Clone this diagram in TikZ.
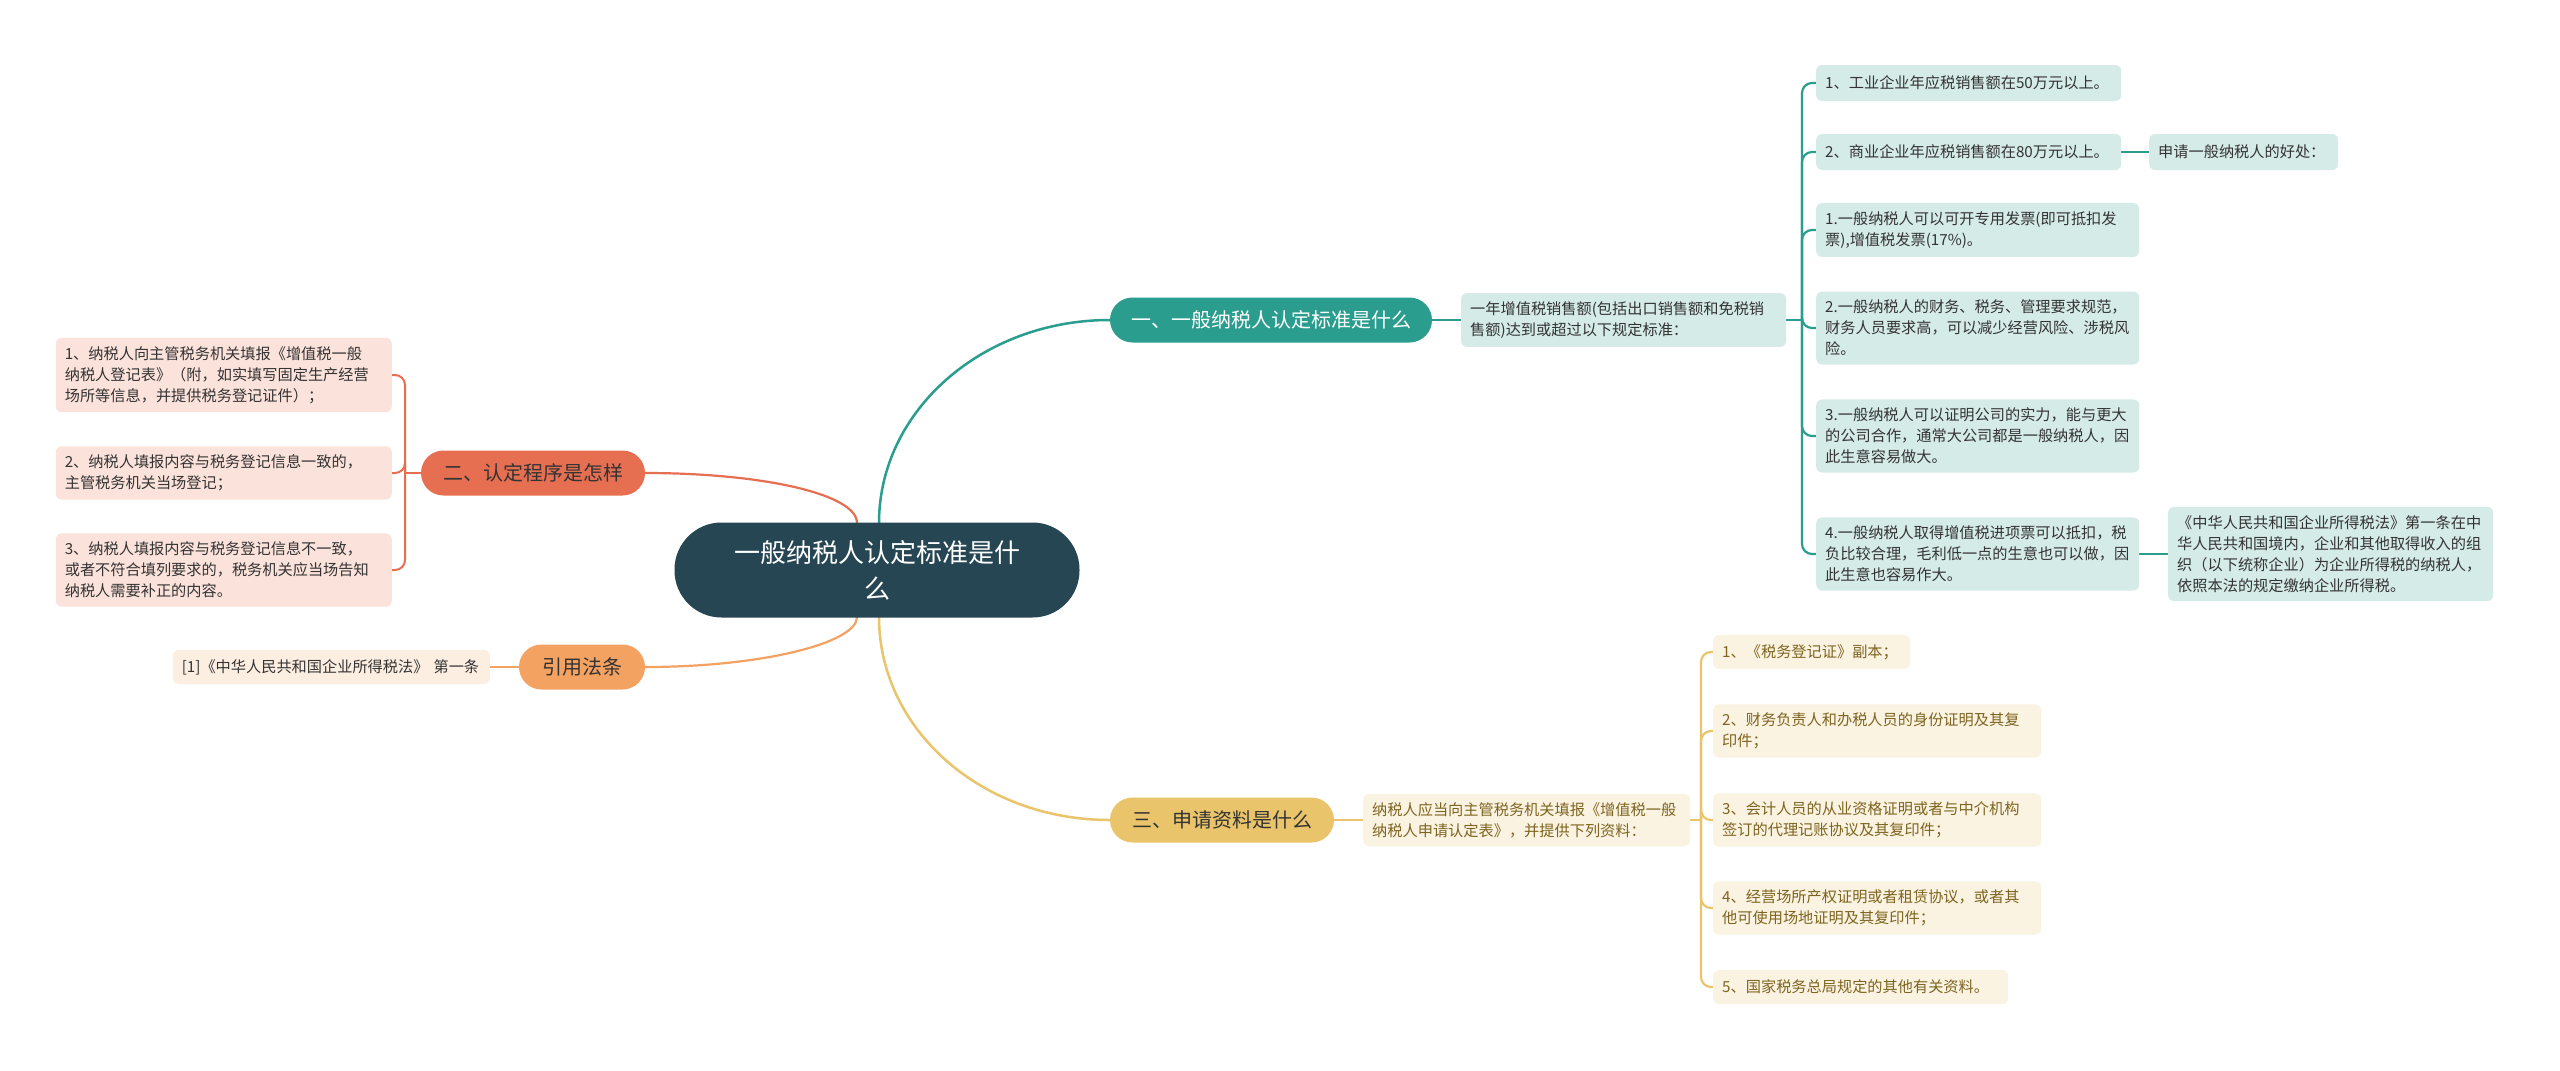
\documentclass[tikz,border=0pt]{standalone}
\usepackage{fontspec}
\setmainfont{Noto Sans CJK SC}
\usetikzlibrary{backgrounds}
\definecolor{cRoot}{HTML}{264653}
\definecolor{cTeal}{HTML}{2A9D8F}
\definecolor{cTealL}{HTML}{D5EBE8}
\definecolor{cRed}{HTML}{E76F51}
\definecolor{cRedL}{HTML}{FBE2DB}
\definecolor{cOra}{HTML}{F4A261}
\definecolor{cOraL}{HTML}{FDEEE2}
\definecolor{cGold}{HTML}{E9C46A}
\definecolor{cGoldL}{HTML}{FBF3E1}
\definecolor{cGoldT}{HTML}{7D6420}
\definecolor{cDark}{HTML}{333333}
\begin{document}
\begin{tikzpicture}[x=1pt,y=-1pt,
  rootbox/.style={fill=cRoot,text=white,rounded corners=47pt,minimum width=405pt,minimum height=95pt,align=center,inner sep=0pt,font=\fontsize{26}{36}\selectfont},
  pill/.style={rounded corners=22.5pt,minimum height=45pt,inner sep=0pt,font=\fontsize{20}{24}\selectfont},
  leaf/.style={rounded corners=6pt,inner xsep=9pt,inner ysep=8.5pt,minimum height=36pt,align=left,anchor=west,font=\fontsize{15.2}{21}\selectfont},
  tleaf/.style={leaf,fill=cTealL,text=cDark},
  rleaf/.style={leaf,fill=cRedL,text=cDark},
  oleaf/.style={leaf,fill=cOraL,text=cDark},
  gleaf/.style={leaf,fill=cGoldL,text=cGoldT},
  tline/.style={draw=cTeal,line width=2.5pt},
  rline/.style={draw=cRed,line width=2.2pt},
  oline/.style={draw=cOra,line width=2.2pt},
  gline/.style={draw=cGold,line width=2.5pt}
]
\useasboundingbox (0,0) rectangle (2560,1071);

% root
\node[rootbox] (root) at (877,570) {一般纳税人认定标准是什\\么};

% branches
\node[pill,fill=cTeal,text=white,minimum width=322pt] (b1) at (1271,320) {一、一般纳税人认定标准是什么};
\node[pill,fill=cRed,text=cDark,minimum width=224pt] (b2) at (533,473) {二、认定程序是怎样};
\node[pill,fill=cOra,text=cDark,minimum width=126pt] (b3) at (582,667) {引用法条};
\node[pill,fill=cGold,text=cDark,minimum width=224pt] (b4) at (1222,820) {三、申请资料是什么};

% branch 1 content
\node[tleaf,text width=307pt] (d1) at (1461,320) {一年增值税销售额(包括出口销售额和免税销\\售额)达到或超过以下规定标准：};
\node[tleaf,text width=287pt] (t1) at (1816,83) {1、工业企业年应税销售额在50万元以上。};
\node[tleaf,text width=287pt] (t2) at (1816,152) {2、商业企业年应税销售额在80万元以上。};
\node[tleaf,text width=171pt] (t2b) at (2149,152) {申请一般纳税人的好处：};
\node[tleaf,text width=305pt] (t3) at (1816,230) {1.一般纳税人可以可开专用发票(即可抵扣发\\票),增值税发票(17\%)。};
\node[tleaf,text width=305pt] (t4) at (1816,328) {2.一般纳税人的财务、税务、管理要求规范，\\财务人员要求高，可以减少经营风险、涉税风\\险。};
\node[tleaf,text width=305pt] (t5) at (1816,436) {3.一般纳税人可以证明公司的实力，能与更大\\的公司合作，通常大公司都是一般纳税人，因\\此生意容易做大。};
\node[tleaf,text width=305pt] (t6) at (1816,554) {4.一般纳税人取得增值税进项票可以抵扣，税\\负比较合理，毛利低一点的生意也可以做，因\\此生意也容易作大。};
\node[tleaf,text width=307pt] (law) at (2168,554) {《中华人民共和国企业所得税法》第一条在中\\华人民共和国境内，企业和其他取得收入的组\\织（以下统称企业）为企业所得税的纳税人，\\依照本法的规定缴纳企业所得税。};

% branch 2 content
\node[rleaf,text width=318pt,anchor=east] (c1) at (392,375) {1、纳税人向主管税务机关填报《增值税一般\\纳税人登记表》（附，如实填写固定生产经营\\场所等信息，并提供税务登记证件）；};
\node[rleaf,text width=318pt,anchor=east] (c2) at (392,473) {2、纳税人填报内容与税务登记信息一致的，\\主管税务机关当场登记；};
\node[rleaf,text width=318pt,anchor=east] (c3) at (392,570) {3、纳税人填报内容与税务登记信息不一致，\\或者不符合填列要求的，税务机关应当场告知\\纳税人需要补正的内容。};

% branch 3 content
\node[oleaf,text width=299pt,anchor=east,minimum height=34pt] (p1) at (490,667) {[1]《中华人民共和国企业所得税法》 第一条};

% branch 4 content
\node[gleaf,text width=309pt] (gd) at (1363,820) {纳税人应当向主管税务机关填报《增值税一般\\纳税人申请认定表》，并提供下列资料：};
\node[gleaf,text width=179pt,minimum height=34pt] (g1) at (1713,652) {1、《税务登记证》副本；};
\node[gleaf,text width=310pt] (g2) at (1713,731) {2、财务负责人和办税人员的身份证明及其复\\印件；};
\node[gleaf,text width=310pt] (g3) at (1713,820) {3、会计人员的从业资格证明或者与中介机构\\签订的代理记账协议及其复印件；};
\node[gleaf,text width=310pt] (g4) at (1713,908) {4、经营场所产权证明或者租赁协议，或者其\\他可使用场地证明及其复印件；};
\node[gleaf,text width=277pt,minimum height=34pt] (g5) at (1713,987) {5、国家税务总局规定的其他有关资料。};

% anchor points on the root
\coordinate (rT) at (879,523);
\coordinate (rR) at (857,523);
\coordinate (rO) at (857,617);
\coordinate (rG) at (879,617);
\coordinate (ts) at (1802,320);
\coordinate (rs) at (405,473);
\coordinate (gs) at (1701,820);

\begin{scope}[on background layer]
\fill[white] (0,0) rectangle (2560,1071);
% main curves
\draw[tline] (rT) .. controls (879,411) and (982,320) .. (b1.west);
\draw[rline] (rR) .. controls (857,494) and (762,473) .. (b2.east);
\draw[oline] (rO) .. controls (857,643) and (762,667) .. (b3.east);
\draw[gline] (rG) .. controls (879,729) and (981,820) .. (b4.west);
% branch 1
\draw[tline,line width=2.2pt] (b1.east) -- (d1.west);
\draw[tline,line width=2.2pt] (d1.east) -- (ts);
\foreach \n in {t1,t2,t3,t4,t5,t6}
  \draw[tline,line width=2.2pt,rounded corners=10pt] (ts) |- (\n.west);
\draw[tline,line width=2.2pt] (t2.east) -- (t2b.west);
\draw[tline,line width=2.2pt] (t6.east) -- (law.west);
% branch 2
\draw[rline,line width=2pt] (b2.west) -- (rs);
\foreach \n in {c1,c2,c3}
  \draw[rline,line width=2pt,rounded corners=10pt] (rs) |- (\n.east);
% branch 3
\draw[oline,line width=2pt] (b3.west) -- (p1.east);
% branch 4
\draw[gline,line width=2.2pt] (b4.east) -- (gd.west);
\draw[gline,line width=2.2pt] (gd.east) -- (gs);
\foreach \n in {g1,g2,g3,g4,g5}
  \draw[gline,line width=2.2pt,rounded corners=10pt] (gs) |- (\n.west);
\end{scope}
\end{tikzpicture}
\end{document}
